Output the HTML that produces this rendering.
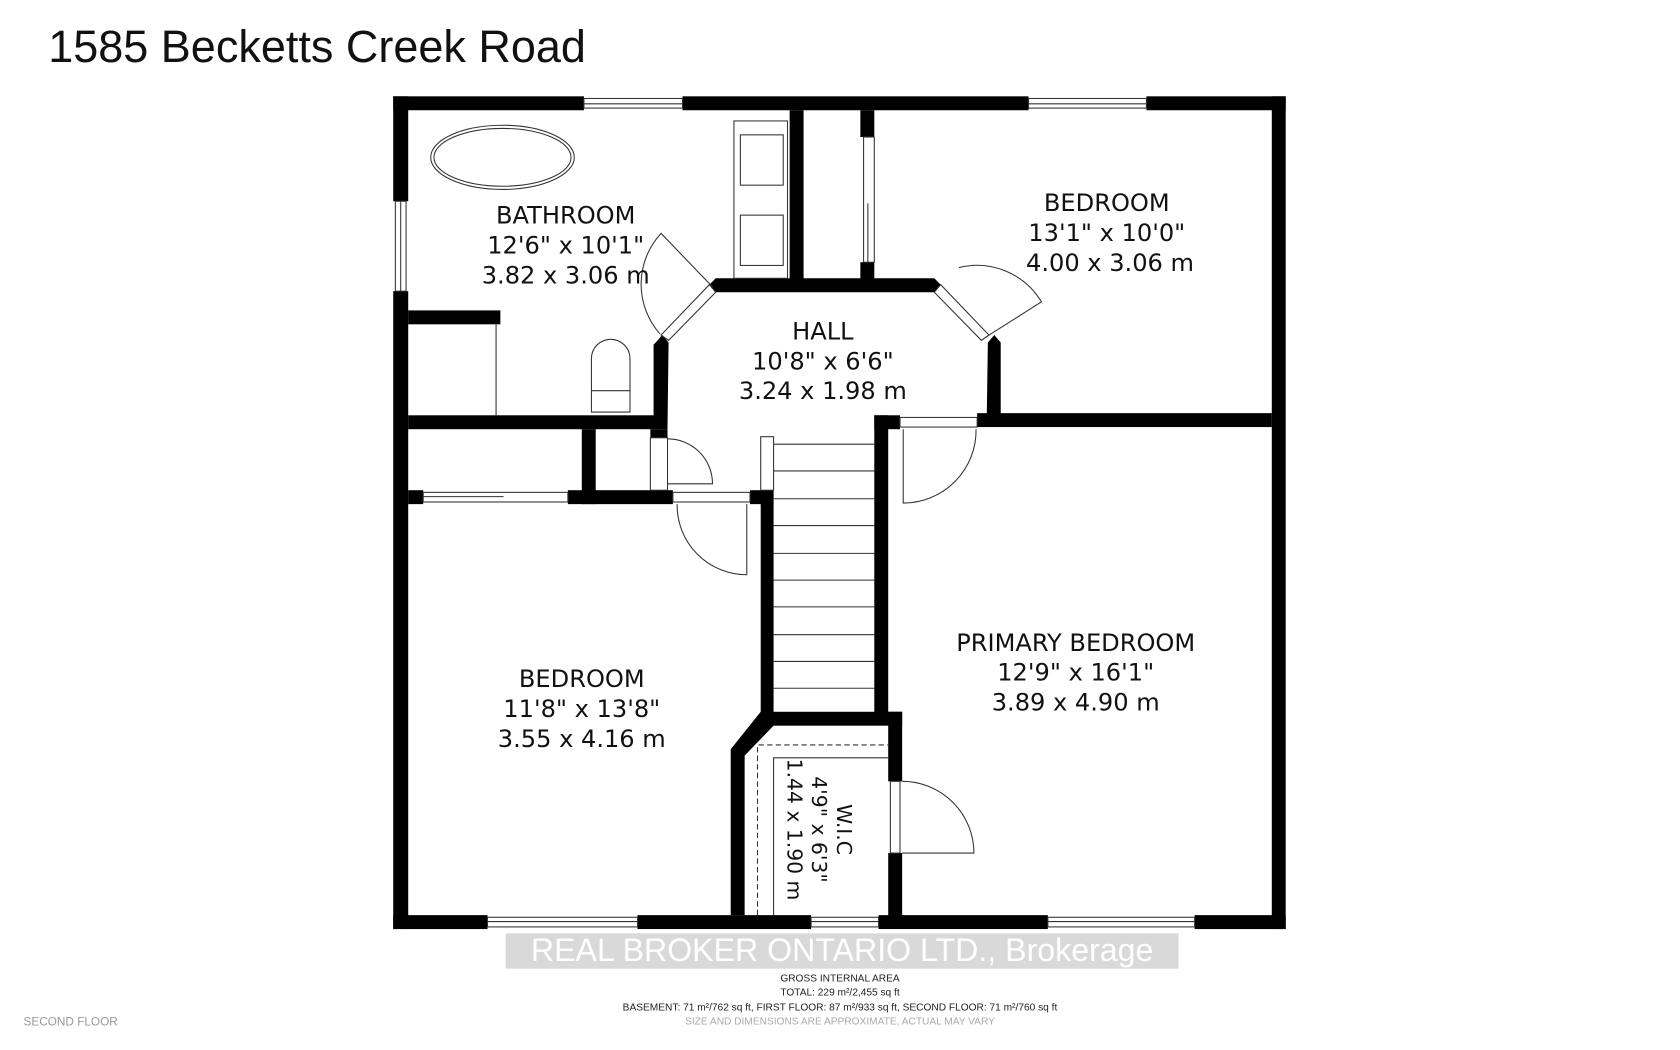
<!DOCTYPE html>
<html><head><meta charset="utf-8"><style>
html,body{margin:0;padding:0;background:#fff;}
svg{display:block;}
</style></head><body>
<svg width="1680" height="1050" viewBox="0 0 1568 981" preserveAspectRatio="none" xmlns="http://www.w3.org/2000/svg">
<rect width="1568" height="981" fill="#fff"/>
<text x="45" y="58" font-family="Liberation Sans, sans-serif" font-size="42" fill="#111">1585 Becketts Creek Road</text>

<g fill="#000">
<rect x="367" y="90" width="178" height="13"/>
<rect x="637" y="90" width="323" height="13"/>
<rect x="1070" y="90" width="130" height="13"/>
<rect x="367" y="90" width="14" height="98"/>
<rect x="367" y="272" width="14" height="596"/>
<rect x="1187" y="90" width="13" height="778"/>
<rect x="367" y="855" width="88" height="13"/>
<rect x="595" y="855" width="162" height="13"/>
<rect x="820" y="855" width="158" height="13"/>
<rect x="1115" y="855" width="85" height="13"/>
<rect x="737" y="103" width="13" height="162"/>
<rect x="803" y="103" width="13" height="25"/>
<rect x="803" y="245" width="13" height="20"/>
<polygon points="668,260 872,260 878,266 872,273 668,273 662,266"/>
<polygon points="612,320 618,313 624,320 623,400 610,400 610,322"/>
<polygon points="922,320 928,313 934,320 934,388 921,388"/>
<rect x="381" y="290" width="86" height="13"/>
<rect x="381" y="388" width="242" height="13"/>
<rect x="543" y="401" width="13" height="70"/>
<rect x="381" y="458" width="14" height="13"/>
<rect x="530" y="458" width="98" height="13"/>
<rect x="607" y="401" width="16" height="8"/>
<rect x="700" y="458" width="22" height="13"/>
<rect x="710" y="458" width="12" height="210"/>
<rect x="816" y="388" width="13" height="280"/>
<rect x="816" y="388" width="24" height="13"/>
<rect x="912" y="386" width="275" height="13"/>
<rect x="710" y="665" width="132" height="13"/>
<polygon points="710,665 722,665 722,678 695,706 695,855 682,855 682,700"/>
<rect x="829" y="665" width="13" height="65"/>
<rect x="829" y="797" width="13" height="68"/>
</g>

<g fill="none" stroke="#333" stroke-width="1">
<rect x="545" y="92" width="92" height="9"/><line x1="545" y1="97" x2="637" y2="97"/>
<rect x="960" y="92" width="110" height="9"/><line x1="960" y1="97" x2="1070" y2="97"/>
<rect x="369" y="188" width="10" height="84"/><line x1="374" y1="188" x2="374" y2="272"/>
<rect x="455" y="857" width="140" height="9"/><line x1="455" y1="861" x2="595" y2="861"/>
<rect x="757" y="857" width="63" height="9"/><line x1="757" y1="861" x2="820" y2="861"/>
<rect x="978" y="857" width="137" height="9"/><line x1="978" y1="861" x2="1115" y2="861"/>
<rect x="806" y="128" width="10" height="117"/><line x1="810" y1="190" x2="810" y2="245"/>
<rect x="395" y="460" width="135" height="9"/><line x1="395" y1="464" x2="470" y2="464"/>
<ellipse cx="469" cy="147" rx="67" ry="30"/><ellipse cx="469" cy="147" rx="64" ry="27"/>
<rect x="685" y="113" width="50" height="147"/>
<rect x="691" y="126" width="40" height="47"/>
<rect x="691" y="201" width="40" height="47"/>
<path d="M552,385 L552,335 A18,18 0 0 1 588,335 L588,385 Z"/><line x1="552" y1="365" x2="588" y2="365"/>
<line x1="463" y1="303" x2="463" y2="388"/>
<polygon points="662,266 668,273 624,318 617,313"/>
<path d="M665,268 L617,218 A70,70 0 0 0 616,312"/>
<polygon points="878,266 872,273 916,318 923,313"/>
<path d="M920,315 L972,282 A70,70 0 0 0 895,250"/>
<rect x="607" y="409" width="16" height="49"/>
<path d="M623,410 A42,42 0 0 1 665,452 L623,452"/>
<rect x="628" y="460" width="72" height="9"/>
<path d="M632,471 A65,65 0 0 0 697,537 L697,471"/>
<rect x="840" y="390" width="72" height="9"/>
<path d="M843,401 L843,470 A68,68 0 0 0 911,401"/>
<rect x="831" y="730" width="9" height="67"/>
<path d="M842,730 A67,67 0 0 1 909,797 L842,797"/>
<rect x="710" y="408" width="12" height="50"/>
<line x1="722" y1="415" x2="816" y2="415"/>
<line x1="722" y1="440" x2="816" y2="440"/>
<line x1="722" y1="466" x2="816" y2="466"/>
<line x1="722" y1="491" x2="816" y2="491"/>
<line x1="722" y1="517" x2="816" y2="517"/>
<line x1="722" y1="542" x2="816" y2="542"/>
<line x1="722" y1="567" x2="816" y2="567"/>
<line x1="722" y1="593" x2="816" y2="593"/>
<line x1="722" y1="618" x2="816" y2="618"/>
<line x1="722" y1="643" x2="816" y2="643"/>
<path d="M707,855 L707,696 L829,696" stroke-dasharray="5,3"/>
<path d="M722,855 L722,708 L829,708"/>
</g>

<g font-family="DejaVu Sans, sans-serif" font-size="22.5" fill="#111" text-anchor="middle">
<text x="528" y="209">BATHROOM</text>
<text x="528" y="237">12'6" x 10'1"</text>
<text x="528" y="265">3.82 x 3.06 m</text>
<text x="1033" y="197">BEDROOM</text>
<text x="1033" y="225">13'1" x 10'0"</text>
<text x="1036" y="253">4.00 x 3.06 m</text>
<text x="768" y="317">HALL</text>
<text x="768" y="345">10'8" x 6'6"</text>
<text x="768" y="373">3.24 x 1.98 m</text>
<text x="1004" y="608">PRIMARY BEDROOM</text>
<text x="1004" y="636">12'9" x 16'1"</text>
<text x="1004" y="664">3.89 x 4.90 m</text>
<text x="543" y="642">BEDROOM</text>
<text x="543" y="670">11'8" x 13'8"</text>
<text x="543" y="698">3.55 x 4.16 m</text>
<g font-size="19" transform="translate(778,775) rotate(90)">
<text x="0" y="-3">W.I.C</text>
<text x="0" y="20">4'9" x 6'3"</text>
<text x="0" y="43">1.44 x 1.90 m</text>
</g>
</g>

<rect x="472" y="872" width="628" height="33" fill="#d9d9d9"/>
<text x="786" y="898" font-family="Liberation Sans, sans-serif" font-size="30" fill="#fff" text-anchor="middle">REAL BROKER ONTARIO LTD., Brokerage</text>
<g font-family="Liberation Sans, sans-serif" font-size="9.5" fill="#222" text-anchor="middle">
<text x="784" y="917">GROSS INTERNAL AREA</text>
<text x="784" y="930">TOTAL: 229 m²/2,455 sq ft</text>
<text x="784" y="944">BASEMENT: 71 m²/762 sq ft, FIRST FLOOR: 87 m²/933 sq ft, SECOND FLOOR: 71 m²/760 sq ft</text>
<text x="784" y="957" fill="#aaa">SIZE AND DIMENSIONS ARE APPROXIMATE, ACTUAL MAY VARY</text>
</g>
<text x="22" y="958" font-family="Liberation Sans, sans-serif" font-size="11" fill="#999">SECOND FLOOR</text>
</svg>
</body></html>
